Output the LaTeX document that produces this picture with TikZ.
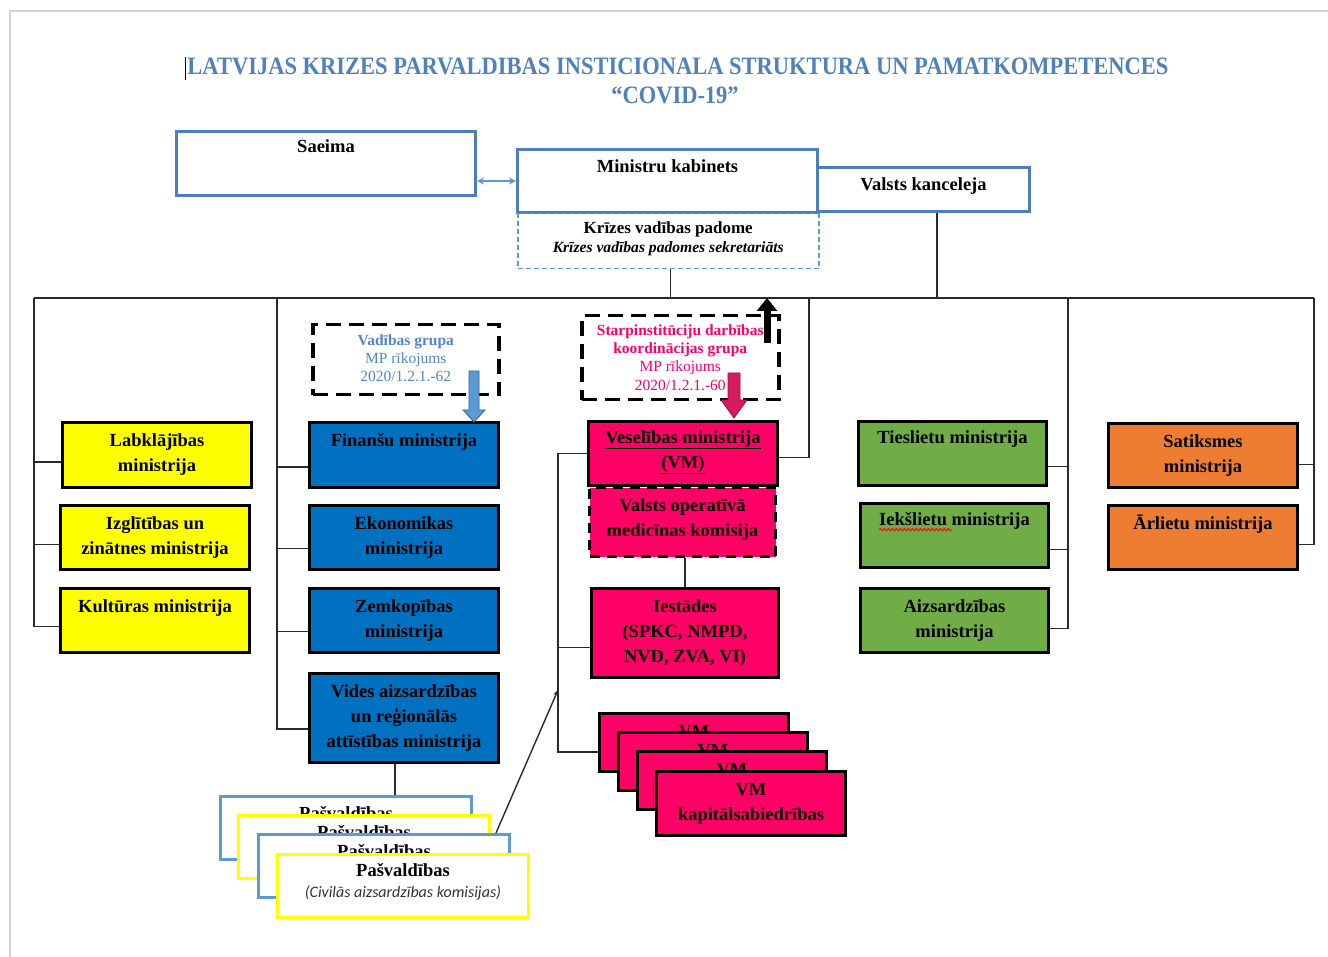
\documentclass[tikz,border=0pt]{standalone}
\usepackage{fontspec}
\setmainfont{Liberation Serif}
\newfontfamily\titlefont[FakeStretch=0.9]{Liberation Serif}
\newfontfamily\smallsans{Carlito}
\usetikzlibrary{arrows.meta,decorations.pathmorphing,calc}
\definecolor{titleblue}{HTML}{4F81BD}
\definecolor{frameblue}{HTML}{4A7EBF}
\definecolor{dashblue}{HTML}{5B9BD5}
\definecolor{vadblue}{HTML}{5385CF}
\definecolor{minblue}{HTML}{0070C0}
\definecolor{minyellow}{HTML}{FFFF00}
\definecolor{minpink}{HTML}{FF0066}
\definecolor{mingreen}{HTML}{70AD47}
\definecolor{minorange}{HTML}{ED7D31}
\definecolor{arrowpink}{HTML}{D81B60}
\definecolor{arrowblue}{HTML}{5B9BD5}
\definecolor{pagegray}{HTML}{D4D4D4}
\definecolor{wirecol}{HTML}{2A2A2A}
\newcommand\Bx[6]{\node[#6, minimum width=#4pt, minimum height=#5pt] (#1) at (#2,#3) {};}
\newcommand\Tx[3]{\node[lbl] (#1T) at ([yshift=-#2pt]#1.north) {\strut #3};}
\begin{document}
\begin{tikzpicture}[x=1pt,y=-1pt,
  mbox/.style={draw=black, line width=3pt, anchor=north west, inner sep=0pt},
  fbox/.style={draw=frameblue, line width=3pt, fill=white, anchor=north west, inner sep=0pt},
  dbox/.style={draw=black, line width=3.5pt, dash pattern=on 15pt off 8pt, anchor=north west, inner sep=0pt},
  lbl/.style={anchor=north, inner sep=0pt, align=center, font=\fontsize{18.5}{25}\selectfont\bfseries},
  slbl/.style={anchor=north, inner sep=0pt, align=center, font=\fontsize{15.5}{18.3}\selectfont},
  pvlbl/.style={anchor=base, inner sep=0pt, font=\fontsize{18.5}{24}\selectfont\bfseries},
  wire/.style={draw=wirecol, line width=1.4pt},
  pvbox/.style={line width=3pt, fill=white, anchor=north west, inner sep=0pt}]
\useasboundingbox (0,0) rectangle (1328,957);
\fill[white] (0,0) rectangle (1328,957);
\draw[pagegray, line width=2pt] (10,957) -- (10,11) -- (1328,11);

% title
\node[font=\titlefont\bfseries\fontsize{25}{29}\selectfont, text=titleblue, anchor=base, inner sep=0pt] (title1) at (678,75) {LATVIJAS KRIZES PARVALDIBAS INSTICIONALA STRUKTURA UN PAMATKOMPETENCES};
\node[font=\titlefont\bfseries\fontsize{25}{29}\selectfont, text=titleblue, anchor=base, inner sep=0pt] (title2) at (675,104) {“COVID-19”};
\draw[line width=1.3pt] ([xshift=-1.5pt,yshift=18pt]title1.base west) -- ++(0,23);

% top level
\Bx{saeima}{175}{130}{299}{64}{fbox}
\node[anchor=base, inner sep=0pt, font=\fontsize{18.5}{25}\selectfont\bfseries] (saeimaT) at ([yshift=-23pt]saeima.north) {Saeima};
\Bx{vk}{816}{166}{212}{44}{fbox}
\node[anchor=base, inner sep=0pt, font=\fontsize{18.5}{25}\selectfont\bfseries] (vkT) at ([yshift=-25pt]vk.north) {Valsts kanceleja};
\Bx{mk}{516}{148}{300}{63}{fbox}
\node[anchor=base, inner sep=0pt, font=\fontsize{18.5}{25}\selectfont\bfseries] (mkT) at ([yshift=-25pt]mk.north) {Ministru kabinets};
\Bx{kvp}{517}{213}{301}{55}{draw=dashblue, line width=1.5pt, dash pattern=on 5pt off 3pt, anchor=north west, inner sep=0pt}
\node[anchor=base, inner sep=0pt, font=\fontsize{17}{20}\selectfont\bfseries] (kvpT) at ([yshift=-21pt]kvp.north) {Krīzes vadības padome};
\node[anchor=base, inner sep=0pt, font=\fontsize{15.6}{18}\selectfont\bfseries\itshape] (kvpS) at ([yshift=-40pt]kvp.north) {Krīzes vadības padomes sekretariāts};
\draw[dashblue, line width=1.5pt, {Stealth[length=7pt,width=7pt]}-{Stealth[length=7pt,width=7pt]}] (mk.west) -- (mk.west -| saeima.east);

% bus
\coordinate (dL) at (34,298);
\coordinate (dB) at (277,298);
\coordinate (kvpJ) at (670,298);
\coordinate (dV) at (809,298);
\coordinate (vkJ) at (937,298);
\coordinate (dG) at (1068,298);
\coordinate (dO) at (1314,298);
\draw[wire, line width=2.2pt] (dL) -- (dO);
\draw[wire, line width=1pt] (kvpJ |- kvp.south) -- (kvpJ);
\draw[wire] (vkJ |- vk.south) -- (vkJ);

% dashed groups
\Bx{vad}{311}{323}{186}{70}{dbox}
\node[slbl, text=vadblue] (vadT) at ([yshift=-9.2pt]vad.north) {\strut\textbf{Vadības grupa}\\MP rīkojums\\2020/1.2.1.-62};
\Bx{starp}{580}{314}{197}{84}{dbox}
\node[slbl, text=minpink] (starpT) at ([yshift=-8.2pt]starp.north) {\strut\textbf{Starpinstitūciju darbības}\\\textbf{koordinācijas grupa}\\MP rīkojums\\2020/1.2.1.-60};

% yellow
\Bx{lab}{61}{421}{189}{65}{mbox, fill=minyellow}
\Tx{lab}{7.5}{Labklājības\\ministrija}
\Bx{izg}{59}{504}{189}{64}{mbox, fill=minyellow}
\Tx{izg}{7.5}{Izglītības un\\zinātnes ministrija}
\Bx{kul}{59}{587}{189}{64}{mbox, fill=minyellow}
\Tx{kul}{7.5}{Kultūras ministrija}
\draw[wire] (dL) |- ([yshift=-6pt]kul.west);
\draw[wire] ([yshift=-7pt]lab.west) -| (dL);
\draw[wire] ([yshift=-7pt]izg.west) -| (dL);

% blue
\Bx{fin}{308}{421}{189}{65}{mbox, fill=minblue}
\Tx{fin}{7.5}{Finanšu ministrija}
\Bx{eko}{308}{504}{189}{64}{mbox, fill=minblue}
\Tx{eko}{7.5}{Ekonomikas\\ministrija}
\Bx{zem}{308}{587}{189}{64}{mbox, fill=minblue}
\Tx{zem}{7.5}{Zemkopības\\ministrija}
\Bx{vid}{308}{672}{189}{89}{mbox, fill=minblue}
\Tx{vid}{7.5}{Vides aizsardzības\\un reģionālās\\attīstības ministrija}
\draw[wire] (dB) |- ([yshift=-11pt]vid.west);
\draw[wire] ([yshift=-12pt]fin.west) -| (dB);
\draw[wire] ([yshift=-11pt]eko.west) -| (dB);
\draw[wire] ([yshift=-11pt]zem.west) -| (dB);

% health
\Bx{ves}{587}{420}{189}{64}{mbox, fill=minpink}
\Tx{ves}{5.5}{\underline{Veselības ministrija}\\\underline{(VM)}}
\Bx{vomk}{588}{486}{186}{69}{mbox, fill=minpink, dash pattern=on 10pt off 7pt}
\Tx{vomk}{7.5}{Valsts operatīvā\\medicīnas komisija}
\Bx{ies}{590}{587}{187}{89}{mbox, fill=minpink}
\Tx{ies}{7.5}{Iestādes\\(SPKC, NMPD,\\NVD, ZVA, VI)}
\coordinate (iesJ) at (685,587);
\draw[wire] (iesJ |- vomk.south) -- (iesJ);
\draw[wire] ([yshift=-4pt]ves.east) -| (dV);

% VM stack
\Bx{vma}{598}{712}{189}{58}{mbox, fill=minpink}
\Tx{vma}{7.5}{VM\\kapitālsabiedrības}
\Bx{vmb}{617}{731}{189}{58}{mbox, fill=minpink}
\Tx{vmb}{7.5}{VM\\kapitālsabiedrības}
\Bx{vmc}{636}{750}{189}{58}{mbox, fill=minpink}
\Tx{vmc}{7.5}{VM\\kapitālsabiedrības}
\Bx{vmd}{655}{770}{189}{64}{mbox, fill=minpink}
\Tx{vmd}{7.5}{VM\\kapitālsabiedrības}
\coordinate (vmJ) at (558,752);
\coordinate (iesK) at ([yshift=-14.5pt]ies.west);
\draw[wire] (ves.west) -| (vmJ) -- (vmJ -| vma.west);
\draw[wire] (iesK) -- (iesK -| vmJ);

% green
\Bx{ties}{857}{420}{188}{64}{mbox, fill=mingreen}
\Tx{ties}{6}{Tieslietu ministrija}
\Bx{iek}{859}{502}{188}{64}{mbox, fill=mingreen}
\Tx{iek}{6}{Iekšlietu ministrija}
\Bx{aiz}{859}{587}{188}{64}{mbox, fill=mingreen}
\Tx{aiz}{7.5}{Aizsardzības\\ministrija}
\draw[red, line width=0.9pt, decorate, decoration={snake, amplitude=1.2pt, segment length=4pt}] ([yshift=-4pt]iekT.base west) -- ++(73,0);
\draw[wire] (dG) |- ([yshift=-8pt]aiz.east);
\draw[wire] ([yshift=-13pt]ties.east) -| (dG);
\draw[wire] ([yshift=-14pt]iek.east) -| (dG);

% orange
\Bx{sat}{1107}{422}{189}{64}{mbox, fill=minorange}
\Tx{sat}{7.5}{Satiksmes\\ministrija}
\Bx{arl}{1107}{504}{189}{64}{mbox, fill=minorange}
\Tx{arl}{7.5}{Ārlietu ministrija}
\draw[wire] (dO) |- ([yshift=-7pt]arl.east);
\draw[wire] ([yshift=-9pt]sat.east) -| (dO);

% Pasvaldibas stack
\coordinate (pvJ) at (395,795);
\draw[wire] (pvJ |- vid.south) -- (pvJ);
\Bx{pva}{219}{795}{251}{63}{pvbox, draw=dashblue}
\node[pvlbl] (pvaT) at ([yshift=-24pt]pva.north) {Pašvaldības};
\Bx{pvb}{237}{814}{251}{63}{pvbox, draw=minyellow}
\node[pvlbl] (pvbT) at ([yshift=-24pt]pvb.north) {Pašvaldības};
\Bx{pvc}{257}{833}{251}{63}{pvbox, draw=dashblue}
\node[pvlbl] (pvcT) at ([yshift=-24pt]pvc.north) {Pašvaldības};
\Bx{pvd}{276}{853}{251}{63}{pvbox, draw=minyellow}
\node[pvlbl] (pvdT) at ([yshift=-23pt]pvd.north) {Pašvaldības};
\node[anchor=base, inner sep=0pt, font=\smallsans\itshape\fontsize{16}{19}\selectfont, text=black!80] (pvdS) at ([yshift=-44pt]pvd.north) {(Civilās aizsardzības komisijas)};
\coordinate (pvArr) at (558,690);
\draw[wire, -{Stealth[length=6pt,width=5pt]}] ([xshift=-15pt]pvc.north east) -- (pvArr);

% block arrows
\filldraw[fill=arrowblue, draw=arrowblue!65!black, line width=0.8pt] (469,371) -- (479,371) -- (479,410) -- (485,410) -- (474,422) -- (463,410) -- (469,410) -- cycle;
\filldraw[fill=arrowpink, draw=arrowpink!70!black, line width=0.8pt] (728,373) -- (740,373) -- (740,400) -- (747,400) -- (734,418) -- (721,400) -- (728,400) -- cycle;
\coordinate (upA) at (767,343);
\coordinate (upB) at (767,298);
\draw[line width=7pt, -{Triangle[width=20pt,length=13pt]}] (upA) -- (upB);
\end{tikzpicture}
\end{document}
